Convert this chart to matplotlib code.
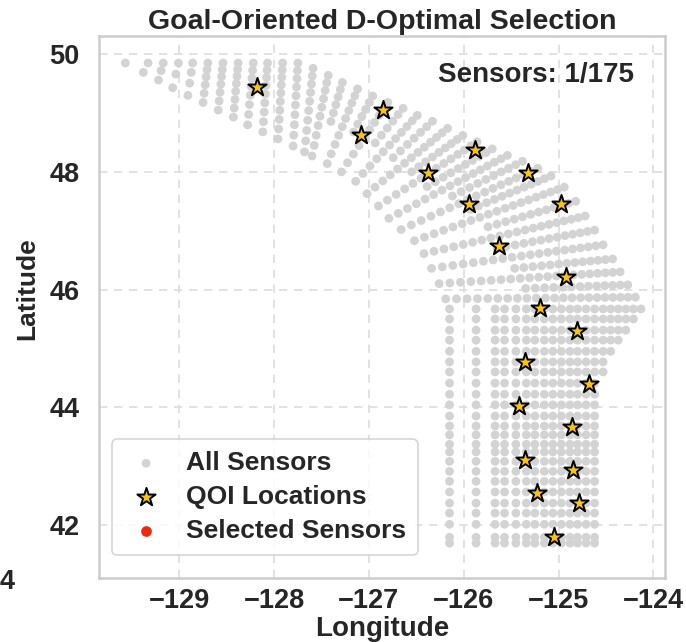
import numpy as np
import matplotlib
matplotlib.use('Agg')
import matplotlib.pyplot as plt

# QOI locations (stars)
qoi_lon = [-128.18, -126.85, -127.08, -125.88, -126.38, -125.32, -125.95, -124.97, -125.63,
           -124.92, -125.20, -124.81, -125.35, -124.68, -125.42, -124.86, -125.35, -124.85,
           -125.23, -124.78, -125.05]
qoi_lat = [49.44, 49.05, 48.62, 48.38, 47.98, 47.98, 47.45, 47.45, 46.74,
           46.22, 45.68, 45.29, 44.77, 44.40, 44.02, 43.66, 43.10, 42.93,
           42.55, 42.37, 41.79]

# southern sensors: east-west rows at fixed latitude, columns at fixed longitude
south_lat = [41.69, 41.79, 42.01, 42.20, 42.37, 42.56, 42.74, 42.91, 43.08, 43.24, 43.37, 43.53,
             43.68, 43.85, 44.04, 44.22, 44.41, 44.60, 44.77, 44.95, 45.14, 45.31, 45.50, 45.67]
south_east = [-124.59] * 15 + [-124.58, -124.56, -124.53, -124.49, -124.43, -124.36, -124.28, -124.19, -124.13]
col_lon = [-126.15, -125.87, -125.67, -125.57, -125.45, -125.34, -125.25, -125.15, -125.06, -124.97,
           -124.88, -124.80, -124.71, -124.62, -124.53, -124.45, -124.37, -124.29, -124.21, -124.13]

# northern sensors: rows running from the NE (outer) edge to the SW (inner) edge
ne_lon = [-124.19, -124.27, -124.35, -124.43, -124.53, -124.62, -124.72, -124.82, -124.94, -125.08,
          -125.22, -125.38, -125.54, -125.70, -125.86, -126.01, -126.17, -126.33, -126.49, -126.64,
          -126.80, -126.96, -127.12, -127.28, -127.43, -127.59, -127.75, -127.91, -128.07, -128.22,
          -128.38, -128.54, -128.70, -128.86, -129.01, -129.17, -129.33, -129.57]
ne_lat = [45.87, 46.08, 46.30, 46.52, 46.76, 47.01, 47.25, 47.50, 47.74, 47.93,
          48.06, 48.18, 48.28, 48.39, 48.51, 48.62, 48.74, 48.86, 48.96, 49.08,
          49.18, 49.29, 49.41, 49.52, 49.64, 49.76, 49.85, 49.85, 49.85, 49.85,
          49.85, 49.85, 49.85, 49.85, 49.85, 49.85, 49.85, 49.85]
sw_lon = [-126.19, -126.22, -126.26, -126.30, -126.34, -126.38, -126.42, -126.46, -126.52, -126.59,
          -126.66, -126.72, -126.79, -126.85, -126.90, -126.96, -127.02, -127.08, -127.14, -127.22,
          -127.29, -127.36, -127.44, -127.52, -127.60, -127.68, -127.80, -127.96, -128.12, -128.28,
          -128.43, -128.59, -128.75, -128.91, -129.07, -129.22, -129.38, -129.57]
sw_lat = [45.84, 45.97, 46.10, 46.23, 46.36, 46.48, 46.61, 46.73, 46.83, 46.92,
          47.02, 47.11, 47.21, 47.32, 47.42, 47.53, 47.63, 47.74, 47.84, 47.92,
          48.00, 48.08, 48.14, 48.21, 48.27, 48.34, 48.44, 48.56, 48.68, 48.80,
          48.93, 49.05, 49.18, 49.30, 49.43, 49.56, 49.69, 49.85]
row_n = [22, 21, 21, 21, 20, 20, 20, 19, 19, 19,
         17, 16, 16, 15, 14, 14, 13, 11, 11, 10,
         10, 10, 10, 10, 10, 10, 10, 10, 9, 8,
         8, 7, 6, 4, 3, 3, 2, 1]
# share of each row that carries sensors (measured from the NE end)
row_keep = [1.0, 0.6, 1.0, 0.6, 1.0, 0.6, 1.0, 0.6, 1.0, 0.6,
            1.0, 0.6, 1.0, 0.6, 1.0, 0.6, 1.0, 0.6, 1.0, 0.6,
            1.0, 0.6, 1.0, 0.6, 1.0, 1.0, 1.0, 1.0, 1.0, 1.0,
            1.0, 1.0, 1.0, 1.0, 1.0, 1.0, 1.0, 1.0]

sx, sy = [], []
for lat, east in zip(south_lat, south_east):
    for lon in col_lon:
        if lon <= east + 0.02:
            sx.append(lon)
            sy.append(lat)
for i in range(len(row_n)):
    s = np.linspace(0, 1, row_n[i])
    t = s * (0.8 + 0.2 * s)  # spacing widens towards the SW edge
    t = t[t <= row_keep[i] + 1e-9]
    sx.extend(ne_lon[i] + t * (sw_lon[i] - ne_lon[i]))
    sy.extend(ne_lat[i] + t * (sw_lat[i] - ne_lat[i]))

plt.rcParams['font.family'] = ['Liberation Sans', 'DejaVu Sans']
plt.rcParams['font.weight'] = 'bold'
txt = '#262626'

fig = plt.figure(figsize=(6.86, 6.42), dpi=100)
ax = fig.add_axes([0.144, 0.099, 0.825, 0.845])

ax.scatter(sx, sy, s=40, color='#d3d3d3', edgecolors='none', label='All Sensors', zorder=2)
ax.scatter(qoi_lon, qoi_lat, s=190, marker='*', color='#f6c417', edgecolors='black',
           linewidths=1.4, label='QOI Locations', zorder=4)
ax.scatter([], [], s=45, color='#ee2a12', label='Selected Sensors')

ax.set_xlim(-129.85, -123.88)
ax.set_ylim(41.09, 50.31)
ax.set_xticks([-129, -128, -127, -126, -125, -124])
ax.set_yticks([42, 44, 46, 48, 50])
ax.tick_params(length=0, labelsize=19.5, colors=txt)
ax.tick_params(axis='x', pad=7)
ax.tick_params(axis='y', pad=14)
ax.grid(True, linestyle=(0, (5, 4)), color='#dddddd', linewidth=1.2, zorder=0)
ax.set_axisbelow(True)
for sp in ax.spines.values():
    sp.set_color('#cccccc')
    sp.set_linewidth(1.8)

ax.set_xlabel('Longitude', fontsize=20, fontweight='bold', color=txt, labelpad=1)
ax.set_ylabel('Latitude', fontsize=19, fontweight='bold', color=txt)
ax.yaxis.set_label_coords(-0.105, 0.535)
ax.set_title('Goal-Oriented D-Optimal Selection', fontsize=20.5, fontweight='bold', color=txt, pad=5)
ax.text(0.945, 0.928, 'Sensors: 1/175', transform=ax.transAxes, ha='right', va='center',
        fontsize=20, fontweight='bold', color=txt)

leg = ax.legend(loc='lower left', fontsize=19, frameon=True, borderpad=0.45, handletextpad=0.65,
                handlelength=1.7, labelspacing=0.38, borderaxespad=0,
                bbox_to_anchor=(0.023, 0.043))
leg.get_frame().set_edgecolor('#cccccc')
leg.get_frame().set_linewidth(1.2)
for t in leg.get_texts():
    t.set_color(txt)

# tick label edge of the neighbouring panel
fig.text(0.0, 0.094, '4', ha='left', va='center', fontsize=19.5, fontweight='bold', color=txt)

fig.savefig('out.png', dpi=100)
